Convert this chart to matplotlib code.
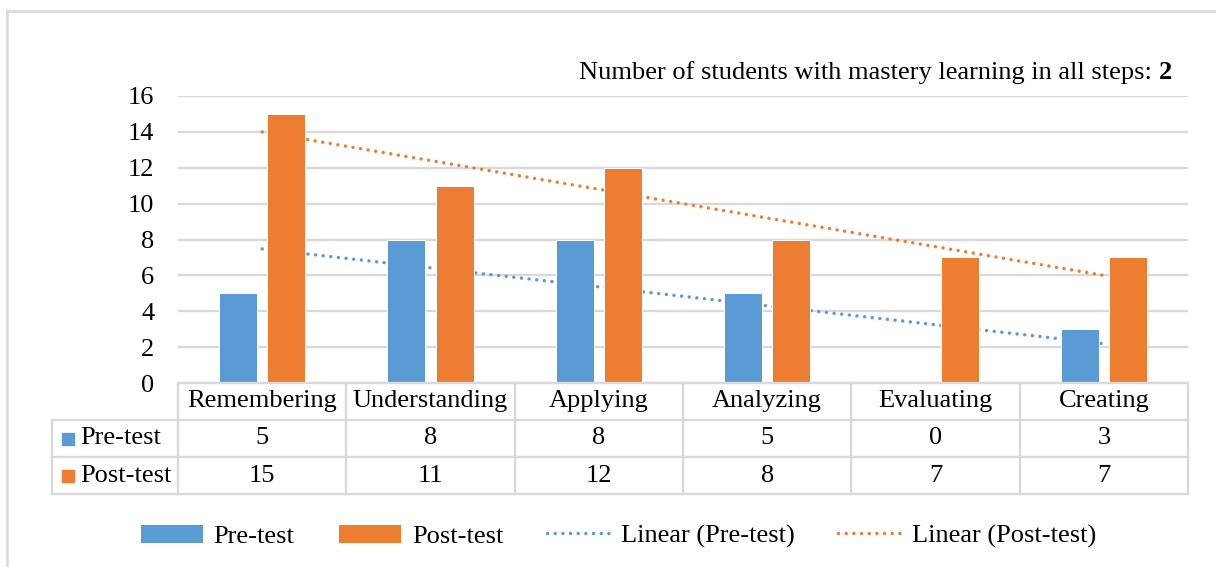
import numpy as np
import matplotlib
matplotlib.use("Agg")
import matplotlib.pyplot as plt
from matplotlib.patches import Patch
from matplotlib.lines import Line2D

categories = ["Remembering", "Understanding", "Applying", "Analyzing", "Evaluating", "Creating"]
pre_test = [5, 8, 8, 5, 0, 3]
post_test = [15, 11, 12, 8, 7, 7]
series_names = ["Pre-test", "Post-test"]
y_ticks = [0, 2, 4, 6, 8, 10, 12, 14, 16]
mastery_all_steps = 2

BLUE = "#5B9BD5"
ORANGE = "#ED7D31"
GRID = "#D9D9D9"
FONT = "Liberation Serif"
FS = 19

plt.rcParams["font.family"] = [FONT, "DejaVu Serif"]

W, H = 1216, 567
fig = plt.figure(figsize=(W / 100, H / 100), dpi=100)


def fx(px):
    return px / W


def fy(py):
    return 1 - py / H


# outer chart frame
fig.add_artist(Line2D([fx(7), fx(7)], [fy(11), 0], color=GRID, lw=1.8))
fig.add_artist(Line2D([fx(7), 1], [fy(11), fy(11)], color=GRID, lw=1.8))

# plot area
left_px, right_px, top_px, bot_px = 178, 1188, 96, 383
ax = fig.add_axes([fx(left_px), fy(bot_px), (right_px - left_px) / W, (bot_px - top_px) / H])
n = len(categories)
x = np.arange(n)
ax.set_xlim(-0.5, n - 0.5)
ax.set_ylim(0, 16)
for s in ax.spines.values():
    s.set_visible(False)
ax.set_xticks([])
ax.set_yticks(y_ticks)
ax.set_yticklabels([str(t) for t in y_ticks], fontsize=FS, fontfamily=FONT)
ax.tick_params(axis="y", length=0, pad=17)
ax.grid(axis="y", color=GRID, lw=1.7, zorder=0)
ax.set_axisbelow(True)

bw = 0.226
off = 0.143
ax.bar(x - off, pre_test, bw, color=BLUE, edgecolor="white", lw=0.7, zorder=3)
ax.bar(x + off, post_test, bw, color=ORANGE, edgecolor="white", lw=0.7, zorder=3)

# linear trendlines fitted over category positions 1..n
xs = np.arange(1, n + 1)
dot = (0, (0.01, 2.2))
for vals, col in [(pre_test, BLUE), (post_test, ORANGE)]:
    k, b = np.polyfit(xs, vals, 1)
    ax.plot(x, k * xs + b, color=col, lw=2.5, linestyle=dot,
            dash_capstyle="round", zorder=2)

# title-style note: regular prefix followed by a bold number
t_bold = fig.text(fx(1172), fy(73), str(mastery_all_steps), ha="right", va="center",
                  fontsize=FS, fontfamily=FONT, fontweight="bold")
fig.canvas.draw()
bb = t_bold.get_window_extent()
fig.text(bb.x0 / W, fy(73), "Number of students with mastery learning in all steps: ",
         ha="right", va="center", fontsize=FS, fontfamily=FONT)

# data table below the plot area
tab_left = 52
lab_w = (left_px - tab_left) / ((right_px - left_px) / n)
tab = fig.add_axes([fx(tab_left), fy(494), (right_px - tab_left) / W, (494 - bot_px) / H])
tab.set_xlim(-0.5 - lab_w, n - 0.5)
tab.set_ylim(3, 0)
tab.axis("off")
lkw = dict(color=GRID, lw=1.7, clip_on=False, solid_capstyle="projecting")
tab.plot([-0.5, n - 0.5], [0, 0], **lkw)
for r in (1, 2, 3):
    tab.plot([-0.5 - lab_w, n - 0.5], [r, r], **lkw)
tab.plot([-0.5 - lab_w] * 2, [1, 3], **lkw)
for c in range(n + 1):
    tab.plot([c - 0.5] * 2, [0, 3], **lkw)

for i, cat in enumerate(categories):
    tab.text(i, 0.5, cat, ha="center", va="center", fontsize=FS, fontfamily=FONT)
for r, (name, vals, col) in enumerate([(series_names[0], pre_test, BLUE),
                                       (series_names[1], post_test, ORANGE)], start=1):
    tab.plot([-0.5 - lab_w + 0.095], [r + 0.5], marker="s", ms=10.5, color=col,
             mec="white", mew=0.5, clip_on=False)
    tab.text(-0.5 - lab_w + 0.165, r + 0.5, name, ha="left", va="center",
             fontsize=FS, fontfamily=FONT)
    for i, v in enumerate(vals):
        tab.text(i, r + 0.5, str(v), ha="center", va="center", fontsize=FS, fontfamily=FONT)

# legend
handles = [
    Patch(facecolor=BLUE, edgecolor="white", lw=0.7),
    Patch(facecolor=ORANGE, edgecolor="white", lw=0.7),
    Line2D([], [], color=BLUE, lw=2.5, linestyle=dot, dash_capstyle="round"),
    Line2D([], [], color=ORANGE, lw=2.5, linestyle=dot, dash_capstyle="round"),
]
labels = ["Pre-test", "Post-test", "Linear (Pre-test)", "Linear (Post-test)"]
fig.legend(handles, labels, loc="center", bbox_to_anchor=(fx(618), fy(536)), ncol=4,
           frameon=False, prop={"family": FONT, "size": FS}, handlelength=2.4,
           handleheight=0.7, handletextpad=0.4, columnspacing=1.65)

fig.savefig("out.png", dpi=100)
